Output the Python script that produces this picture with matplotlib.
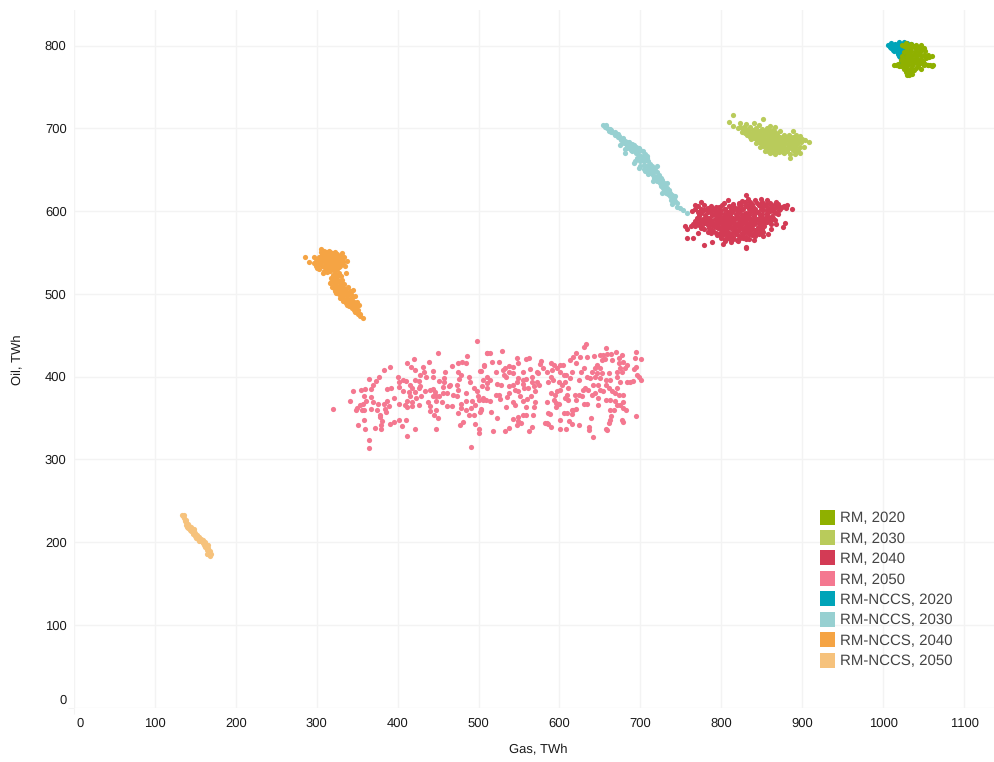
import matplotlib
matplotlib.use('Agg')
import matplotlib.pyplot as plt
from matplotlib.patches import Patch
from matplotlib.transforms import ScaledTranslation

plt.rcParams['font.family'] = ['Liberation Sans', 'DejaVu Sans']
plt.rcParams['text.hinting'] = 'no_hinting'
plt.rcParams['text.hinting_factor'] = 1

# points as (gas, oil) in TWh
rm_2020 = [(1023,801),(1028,803),(1034,802),(1040,801),(1047,801),(1029,797),(1035,797),(1041,796),(1047,795),(1052,793),
           (1026,792),(1032,791),(1038,790),(1044,790),(1050,789),(1056,789),(1060,788),(1023,787),(1029,786),(1035,785),
           (1041,785),(1047,784),(1053,785),(1022,782),(1028,781),(1034,781),(1040,780),(1046,779),(1052,778),(1058,777),
           (1062,777),(1056,776),(1050,776),(1043,775),(1036,776),(1030,776),(1024,777),(1018,778),(1014,777),(1020,775),
           (1026,772),(1032,771),(1038,771),(1047,772),(1033,767),(1028,768),(1036,766),(1032,765),(1029,764),
           (1026,799),(1032,799),(1038,799),(1044,798),(1050,797),(1028,794),(1034,794),(1040,793),(1046,792),(1029,789),
           (1035,788),(1041,788),(1047,787),(1053,787),(1057,786),(1025,784),(1031,783),(1037,783),(1043,782),(1049,781),
           (1025,779),(1031,778),(1037,778),(1043,778),(1049,778),(1055,777),(1060,775),(1016,776),
           (1022,775),(1028,774),(1034,773),(1040,773),(1030,769),(1035,769),(1031,767)]
rm_2030 = [(814,716),(810,708),(852,711),(815,703),(823,706),(830,705),(840,706),(846,704),(860,703),(866,702),(856,700),
           (820,700),(828,701),(835,702),(843,700),(850,699),(864,698),(872,697),(888,697),(826,696),(833,697),(840,696),
           (847,695),(855,695),(862,694),(869,693),(877,692),(884,692),(892,692),(897,691),(832,692),(838,691),(845,691),
           (852,690),(859,690),(866,689),(873,688),(880,688),(887,688),(894,687),(900,687),(904,686),(837,687),(844,686),
           (850,686),(857,685),(864,685),(871,684),(878,683),(885,684),(892,683),(899,683),(908,683),(843,682),(850,681),
           (856,680),(863,680),(870,679),(877,678),(884,679),(891,678),(897,678),(902,678),(848,677),(855,675),(861,674),
           (868,675),(874,673),(881,673),(888,674),(895,674),(854,672),(860,670),(866,669),(878,670),(891,669),(897,670),
           (885,664),(863,671),(871,671),(885,669),
           (823,702),(827,698),(831,699),(835,699),(839,698),(843,697),(847,697),(851,697),(855,697),(860,697),(866,695),
           (829,694),(833,694),(837,693),(841,693),(845,693),(849,692),(853,692),(857,692),(861,692),(865,691),(869,690),
           (873,690),(877,690),(881,690),(885,690),(889,690),(835,689),(840,688),(844,688),(848,688),(852,688),(856,687),
           (860,687),(864,687),(868,686),(872,686),(876,686),(880,686),(884,686),(888,686),(892,685),(896,685),(846,684),
           (850,683),(854,683),(858,682),(862,682),(866,682),(870,681),(874,681),(878,681),(882,681),(886,681),(890,681),
           (894,681),(852,679),(858,677),(862,677),(866,677),(870,677),(874,676),(878,676),(882,676),(886,676),(890,676),
           (858,672),(864,673),(870,673),(876,671),(892,671)]
rm_2040 = [(775,611),(768,607),(764,600),(803,610),(808,613),(830,619),(833,614),(849,615),(856,613),(867,611),(875,605),
           (881,607),(887,603),(879,586),(876,581),(867,584),(861,578),(858,572),(852,570),(846,572),(840,565),(834,566),
           (830,557),(831,555),(802,560),(788,563),(779,559),(765,568),(758,568),(771,574),(755,582),(758,578),(762,582),
           (766,584),(826,612),(835,611),(842,613),(850,611),(815,608),(822,609),(830,607),(838,609),(846,607),(855,609),
           (862,607),(870,608),(775,603),(783,604),(790,603),(797,605),(805,603),(812,605),(820,604),(827,603),(834,605),
           (842,603),(850,605),(858,603),(866,604),(873,602),(880,604),(771,599),(778,601),(786,600),(793,599),(800,601),
           (808,599),(815,601),(823,600),(830,598),(838,601),(845,599),(852,601),(860,600),(868,598),(772,596),(780,595),
           (788,597),(795,595),(803,596),(810,594),(818,597),(826,595),(833,594),(840,597),(848,595),(856,596),(863,594),
           (870,597),(770,592),(777,590),(785,592),(792,591),(800,593),(807,590),(814,592),(822,590),(829,592),(837,591),
           (844,590),(852,592),(859,590),(768,588),(775,587),(783,588),(790,586),(798,588),(805,586),(812,588),(820,586),
           (827,588),(835,587),(842,586),(850,588),(857,587),(866,589),(765,584),(772,583),(780,585),(788,583),(796,584),
           (803,582),(811,584),(818,582),(826,584),(833,582),(841,584),(849,582),(775,580),(785,579),(793,581),(800,578),
           (808,580),(816,578),(824,580),(831,578),(838,580),(846,578),(783,575),(790,576),(798,574),(806,576),(813,574),
           (821,576),(828,574),(836,576),(844,574),(852,575),(795,571),(803,572),(811,570),(818,572),(826,570),(834,572),
           (842,570),(800,567),(808,568),(815,566),(823,568),(830,566),(805,564),(812,563),(820,564),
           (822,610),(829,611),(836,609),(844,610),(852,609),(860,610),(866,609),(771,606),(779,607),(787,606),(794,605),
           (801,607),(809,606),(816,605),(824,607),(831,606),(839,605),(847,607),(855,606),(862,605),(870,606),(877,606),
           (768,602),(775,601),(782,603),(790,602),(797,601),(804,603),(812,602),(819,601),(826,602),(834,603),(841,601),
           (849,602),(856,601),(864,603),(871,601),(775,598),(783,599),(791,597),(798,598),(806,597),(813,599),(820,598),
           (828,597),(835,599),(842,598),(850,597),(857,598),(865,599),(773,594),(781,593),(789,595),(796,594),(804,593),
           (811,595),(819,594),(826,593),(834,595),(841,594),(849,593),(856,594),(864,592),(772,590),(780,591),(787,589),
           (795,590),(802,589),(810,591),(817,590),(825,589),(832,590),(840,589),(847,591),(855,590),(862,589),(770,586),
           (778,585),(785,587),(793,586),(801,585),(808,587),(816,585),(823,586),(831,585),(838,587),(846,585),(853,586),
           (861,584),(768,582),(776,581),(783,583),(791,582),(799,581),(807,583),(814,581),(822,582),(829,581),(837,583),
           (845,581),(853,582),(779,578),(788,577),(796,579),(804,577),(812,579),(820,577),(827,578),(835,578),(842,577),
           (850,578),(787,574),(794,573),(802,575),(810,573),(817,575),(825,573),(832,575),(840,573),(848,574),(799,570),
           (807,571),(814,569),(822,570),(830,569),(838,571),(804,566),(811,566),(819,565),(827,567)]
rm_2050 = [(320,361),(341,370),(345,382),(355,384),(360,385),(367,385),(364,397),(373,395),(377,400),(383,408),(390,411),
           (369,390),(359,376),(367,375),(370,369),(361,370),(357,367),(353,366),(350,362),(348,360),(356,359),(359,359),
           (367,361),(376,367),(383,367),(387,370),(389,364),(384,361),(375,360),(386,357),(378,354),(378,351),(358,348),
           (351,342),(360,337),(372,338),(379,337),(381,346),(380,342),(390,343),(396,345),(402,348),(410,348),(405,340),
           (421,336),(412,328),(365,323),(364,314),(387,385),(392,386),(395,374),(402,367),(401,399),(402,393),(402,387),
           (406,396),(410,395),(407,383),(415,390),(418,386),(414,381),(421,381),(411,371),(415,376),(418,369),(409,365),
           (412,363),(418,364),(426,366),(429,376),(423,374),(426,386),(428,388),(421,396),(426,395),(428,402),(422,408),
           (417,411),(411,416),(420,421),(431,411),(433,406),(435,400),(444,407),(444,400),(439,418),(450,429),(451,395),
           (457,398),(457,393),(458,406),(467,413),(474,416),(479,417),(484,416),(486,425),(498,443),(474,406),(478,402),
           (476,397),(488,399),(489,393),(502,407),(507,413),(511,428),(434,382),(440,384),(444,385),(446,381),(456,387),
           (463,388),(465,390),(461,380),(456,380),(473,390),(475,384),(469,378),(473,376),(484,380),(494,386),(498,382),
           (444,376),(447,376),(451,376),(448,370),(455,369),(437,369),(440,364),(447,360),(440,358),(445,354),(450,350),
           (461,364),(467,364),(474,356),(478,362),(484,360),(478,367),(485,370),(492,371),(496,366),(491,362),(503,361),
           (502,357),(488,354),(494,353),(481,345),(477,342),(495,343),(500,336),(501,332),(491,315),(448,337),(499,376),
           (500,372),(505,372),
           (510,428),(514,428),(529,431),(507,414),(516,417),(525,417),(503,407),(521,405),(510,400),(514,396),(506,396),
           (510,392),(504,388),(510,386),(523,391),(528,390),(530,408),(533,410),(537,413),(543,412),(547,422),(549,416),
           (538,406),(543,404),(531,402),(534,400),(555,406),(558,421),(562,422),(563,409),(549,398),(555,396),(558,397),
           (566,400),(548,394),(555,391),(543,390),(537,388),(556,386),(561,386),(566,394),(572,394),(575,390),(568,388),
           (570,382),(549,382),(545,384),(537,380),(521,378),(525,378),(506,374),(509,372),(514,370),(527,373),(535,375),
           (542,369),(545,366),(551,376),(555,371),(560,373),(565,376),(570,369),(534,363),(558,363),(568,363),(503,360),
           (515,357),(523,350),(543,349),(549,351),(555,354),(559,354),(567,354),(549,346),(553,344),(547,342),(537,338),
           (533,334),(518,334),(562,334),(566,339),(572,406),(574,404),(577,419),(576,415),(580,410),(584,406),(589,416),
           (593,414),(591,408),(597,410),(601,414),(604,414),(601,405),(605,402),(608,402),(589,400),(586,394),(592,396),
           (600,394),(603,390),(615,406),(613,420),(617,424),(621,428),(625,424),(621,416),(630,436),(633,439),(634,424),
           (643,425),(650,426),(657,434),(654,426),(659,427),(664,427),(670,430),(677,426),(694,430),(693,422),(701,421),
           (695,412),(692,409),(696,402),(698,400),(701,396),(683,394),(687,394),(691,395),(679,418),(673,416),(675,410),
           (681,410),(677,406),(671,406),(683,414),(673,422),(665,420),(656,421),(652,420),(646,414),(640,406),(644,410),
           (650,410),(646,404),(652,404),(661,404),(634,400),(638,398),(644,400),(650,398),(657,396),(663,396),(671,400),
           (675,394),(626,406),(630,410),(624,396),(613,398),(607,394),(632,386),(635,384),(629,384),(642,390),(648,390),
           (657,390),(661,386),(650,384),(644,380),(654,382),(671,386),(669,380),(665,382),(673,378),(679,378),(597,382),
           (595,378),(601,384),(589,380),(611,386),(609,378),(619,378),(624,378),(628,376),(621,372),(607,374),(611,372),
           (593,372),(596,368),(600,367),(584,369),(596,363),(615,360),(621,361),(617,360),(630,367),(634,367),(647,374),
           (640,378),(647,366),(658,372),(663,372),(668,371),(678,369),(671,366),(675,366),(679,362),(682,360),(663,359),
           (667,360),(664,352),(586,356),(588,355),(605,356),(609,356),(615,355),(639,350),(601,347),(612,346),(615,343),
           (624,342),(582,344),(584,344),(586,343),(590,339),(601,337),(608,336),(636,339),(636,335),(641,327),(657,336),
           (659,335),(661,344),(663,348),(677,348),(679,345),(695,352)]
nccs_2020 = [(1006,801),(1010,803),(1015,802),(1020,804),(1026,804),(1030,803),(1035,802),(1008,798),(1013,798),(1018,799),
             (1023,799),(1028,798),(1033,797),(1012,795),(1017,794),(1022,795),(1027,794),(1018,790),(1022,791),(1026,790),
             (1021,786),(1025,785),(1022,780),(1008,800),(1012,800),(1017,800),(1021,801),(1025,801),(1010,797),(1015,796),
             (1020,797),(1025,797),(1014,793),(1019,792),(1024,793),(1020,788)]
nccs_2030 = [(654,704),(656,702),(659,700),(657,704),(662,699),(664,698),(667,694),(669,695),(671,692),(675,688),(673,691),
             (678,688),(681,685),(683,684),(686,683),(689,681),(692,680),(695,678),(698,676),(700,674),(703,672),(706,669),
             (675,680),(681,670),(684,676),(688,674),(681,675),(692,674),(696,671),(692,658),(693,660),(698,652),(700,655),
             (702,662),(705,660),(708,664),(701,667),(706,648),(708,655),(710,660),(712,657),(714,654),(709,650),(716,652),
             (718,650),(713,646),(716,644),(720,647),(723,643),(719,641),(722,638),(726,640),(727,637),(724,634),(729,634),
             (727,631),(731,630),(733,628),(730,626),(735,626),(737,622),(734,621),(739,619),(741,616),(738,613),(743,612),
             (745,610),(749,604),(753,601),(757,598),
             (661,697),(664,695),(668,692),(672,689),(676,686),(680,682),(684,680),(688,677),(672,693),(678,684),(683,678),
             (690,672),(694,670),(698,668),(702,665),(706,662),(696,664),(700,660),(704,656),(712,650),(716,647),(720,654),
             (708,666),(711,652),(717,640),(721,636),(725,630),(728,628),(733,634),(716,636),(727,622),(732,622),(736,618),
             (740,612),(739,608),(743,618),(745,605),(729,625),(710,645),(704,651)]
nccs_2040 = [(285,544),(290,538),(296,537),(305,554),(331,549),(337,540),(322,551),(297,545),(300,531),(308,525),(335,533),
             (299,540),(303,545),(303,536),(307,548),(307,541),(307,534),(311,550),(311,544),(311,537),(311,530),(315,552),
             (315,546),(315,540),(315,534),(315,528),(319,549),(319,543),(319,537),(319,531),(323,546),(323,540),(323,534),
             (327,544),(327,538),(327,532),(331,541),(331,536),(334,544),(320,523),(327,525),(336,525),(316,513),(320,517),
             (324,520),(319,508),(323,512),(327,515),(331,517),(322,503),(326,507),(330,510),(334,512),(327,500),(331,503),
             (335,506),(339,508),(329,495),(333,498),(337,500),(341,503),(345,504),(335,492),(339,494),(343,496),(347,497),
             (338,487),(342,489),(346,490),(350,490),(344,483),(348,484),(351,481),(347,478),(351,476),(354,473),(357,471),
             (301,542),(305,538),(305,544),(305,550),(309,552),(309,546),(309,540),(309,534),(309,528),(313,548),(313,542),
             (313,536),(313,530),(313,526),(317,550),(317,544),(317,538),(317,532),(317,527),(321,547),(321,541),(321,535),
             (321,529),(325,548),(325,542),(325,536),(325,530),(329,546),(329,540),(329,534),(333,538),(301,536),(303,530),
             (299,534),(318,514),(321,516),(325,516),(329,513),(321,507),(325,509),(329,507),(333,507),(324,501),(328,503),
             (332,500),(336,503),(330,497),(334,494),(338,497),(342,500),(332,491),(336,489),(340,491),(344,492),(340,485),
             (344,486),(348,487),(346,481),(350,479),(353,476),(352,486),(322,525),(318,519),(330,522),(326,521)]
nccs_2050 = [(134,233),(136,229),(137,225),(139,221),(140,218),(142,219),(143,215),(145,216),(148,213),(147,210),(150,211),
             (152,208),(151,205),(155,206),(157,204),(155,201),(160,203),(159,199),(162,200),(164,197),(162,194),(166,193),
             (164,190),(167,188),(165,186),(168,183),(164,185),
             (135,231),(136,233),(138,227),(139,224),(141,217),(144,213),(146,213),(148,216),(151,209),(153,206),(153,204),
             (157,201),(158,202),(160,200),(161,197),(164,194),(165,190),(166,186),(167,185),(166,196),(168,189),(169,186),
             (141,222),(144,218),(150,207)]

labels = ['RM, 2020', 'RM, 2030', 'RM, 2040', 'RM, 2050',
          'RM-NCCS, 2020', 'RM-NCCS, 2030', 'RM-NCCS, 2040', 'RM-NCCS, 2050']
colors = ['#8fb000', '#b9cb5b', '#d33b55', '#f47890', '#00a4b8', '#97d0d1', '#f5a444', '#f6c27c']
series = [rm_2020, rm_2030, rm_2040, rm_2050, nccs_2020, nccs_2030, nccs_2040, nccs_2050]
x_ticks = [0, 100, 200, 300, 400, 500, 600, 700, 800, 900, 1000, 1100]
y_ticks = [0, 100, 200, 300, 400, 500, 600, 700, 800]

fig = plt.figure(figsize=(9.94, 7.62), dpi=100)
ax = fig.add_axes([74 / 994, (762 - 707.5) / 762, 920 / 994, 697.5 / 762])

# NCCS first, RM 2020 sits on top of the teal cloud in the picture
order = [4, 5, 6, 7, 0, 1, 2, 3]
for i in order:
    gas = [p[0] for p in series[i]]
    oil = [p[1] for p in series[i]]
    ax.scatter(gas, oil, s=14, color=colors[i], linewidths=0, zorder=3, clip_on=False)

ax.set_xlim(0, 1137)
ax.set_ylim(0, 843)
ax.set_xticks(x_ticks)
ax.set_yticks(y_ticks)
ax.grid(True, color='#f3f3f3', linewidth=1)
ax.set_axisbelow(True)
for s in ax.spines.values():
    s.set_visible(False)
ax.tick_params(length=0, labelsize=9.2, labelcolor='#1a1a1a')
ax.tick_params(axis='x', pad=7.5)
ax.tick_params(axis='y', pad=5.3)

# the two zero labels are pushed inward, with a short tick at the zero lines
ax.xaxis.get_major_ticks()[0].tick1line.set_markersize(4)
ax.xaxis.get_major_ticks()[0].tick1line.set_markeredgecolor('#f3f3f3')
ax.yaxis.get_major_ticks()[0].tick1line.set_markersize(4)
ax.yaxis.get_major_ticks()[0].tick1line.set_markeredgecolor('#f3f3f3')
lab = ax.get_xticklabels()[0]
lab.set_transform(lab.get_transform() + ScaledTranslation(6 / 100, 0, fig.dpi_scale_trans))
lab = ax.get_yticklabels()[0]
lab.set_transform(lab.get_transform() + ScaledTranslation(0, 8 / 100, fig.dpi_scale_trans))

fig.text(538 / 994, 1 - 750 / 762, 'Gas, TWh', ha='center', va='center', fontsize=9.5, color='#1a1a1a')
fig.text(18 / 994, 1 - 360 / 762, 'Oil, TWh', ha='center', va='center', rotation=90, fontsize=9.5, color='#1a1a1a')

handles = [Patch(facecolor=c, edgecolor='none') for c in colors]
leg = ax.legend(handles, labels, loc='upper left', bbox_to_anchor=(820 / 994, 1 - 509.5 / 762),
                bbox_transform=fig.transFigure, frameon=False, fontsize=11.1, handlelength=0.97,
                handleheight=1.12, labelspacing=0.3, handletextpad=0.31, borderpad=0, borderaxespad=0)
for t in leg.get_texts():
    t.set_color('#444444')

fig.savefig('out.png', dpi=100)
